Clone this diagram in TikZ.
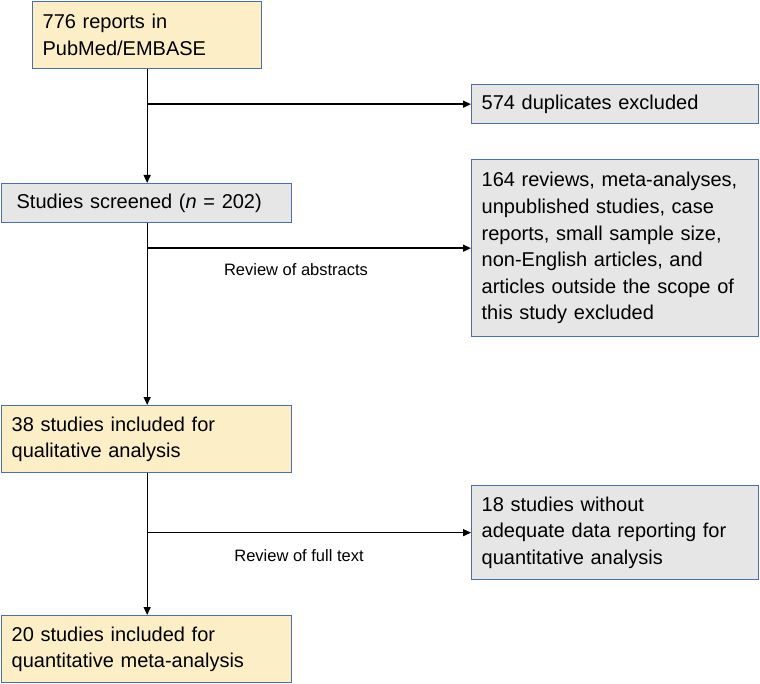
\documentclass[tikz,border=0pt]{standalone}
\usepackage{fontspec}
\setmainfont{Liberation Sans}
\usetikzlibrary{arrows.meta}
\definecolor{boxyellow}{HTML}{FCEFC8}
\definecolor{boxgray}{HTML}{E6E6E6}
\definecolor{boxedge}{HTML}{4E6EA6}
\tikzset{
  box/.style={draw=boxedge, line width=1.3pt, rectangle, anchor=north west,
    inner xsep=0pt, inner ysep=0pt, align=left,
    font=\fontsize{20}{26.6}\selectfont},
  ybox/.style={box, fill=boxyellow},
  gbox/.style={box, fill=boxgray},
  conn/.style={line width=1.3pt, -{Triangle[length=8pt,width=7pt]}},
  plain/.style={line width=1.3pt},
  lbl/.style={font=\fontsize{16.5}{20}\selectfont}
}
\begin{document}
\begin{tikzpicture}[x=1pt,y=-1pt]
\useasboundingbox (0,0) rectangle (760,684);
% boxes
\node[ybox, minimum width=229pt, minimum height=67pt, text width=209pt] (b1) at (32,1)
  {776 reports in\\PubMed/EMBASE};
\node[gbox, minimum width=287pt, minimum height=39pt, text width=267pt] (b2) at (471,84)
  {574 duplicates excluded};
\node[gbox, minimum width=290pt, minimum height=39pt, text width=260pt] (b3) at (1,183)
  {Studies screened (\textit{n} = 202)};
\node[gbox, minimum width=287pt, minimum height=177pt, text width=267pt] (b4) at (471,159)
  {164 reviews, meta-analyses,\\unpublished studies, case\\reports, small sample size,\\non-English articles, and\\articles outside the scope of\\this study excluded};
\node[ybox, minimum width=290pt, minimum height=67pt, text width=270pt] (b5) at (1,405)
  {38 studies included for\\qualitative analysis};
\node[gbox, minimum width=287pt, minimum height=94pt, text width=267pt] (b6) at (471,485)
  {18 studies without\\adequate data reporting for\\quantitative analysis};
\node[ybox, minimum width=290pt, minimum height=67pt, text width=270pt] (b7) at (1,615)
  {20 studies included for\\quantitative meta-analysis};
% main flow
\draw[conn] (b1.south) -- (b1.south |- b3.north);
\draw[conn] (b1.south |- b3.south) -- (b1.south |- b5.north);
\draw[conn] (b1.south |- b5.south) -- (b1.south |- b7.north);
% branches
\draw[conn] (b2.west -| b1.south) -- (b2.west);
\draw[conn] (b4.west -| b1.south) -- (b4.west);
\draw[conn] (b6.west -| b1.south) -- (b6.west);
% labels
\node[lbl] (l1) at (296,270) {Review of abstracts};
\node[lbl] (l2) at (299,556) {Review of full text};
\end{tikzpicture}
\end{document}
